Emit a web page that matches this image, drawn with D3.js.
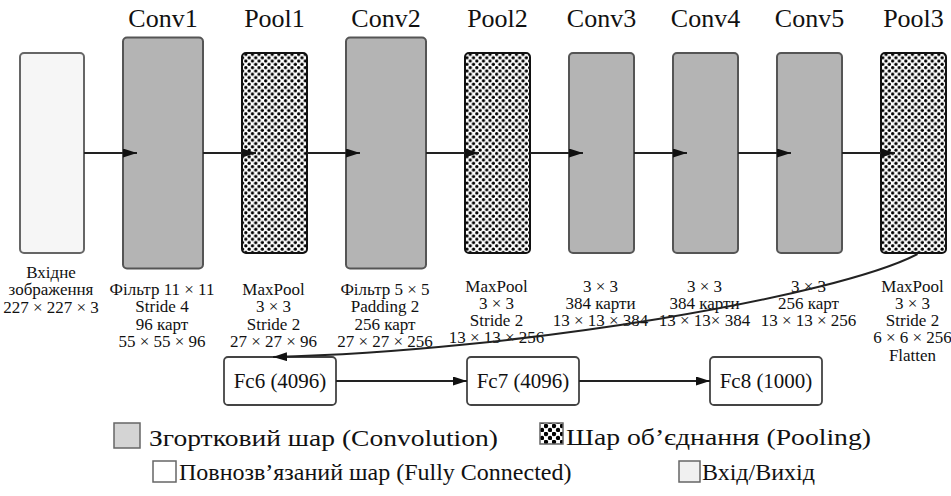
<!DOCTYPE html>
<html><head><meta charset="utf-8">
<script src="https://cdn.jsdelivr.net/npm/d3@7/dist/d3.min.js"></script>
<style>html,body{margin:0;padding:0;background:#fff;} svg text{font-family:"Liberation Serif","Times New Roman",Tinos,"DejaVu Serif",serif;fill:#111;}</style>
</head><body><div id="chart"></div>
<script>
// ---- data ----
const layerNames = ["Input","Conv1","Pool1","Conv2","Pool2","Conv3","Conv4","Conv5","Pool3"];
const layerTitles = ["","Conv1","Pool1","Conv2","Pool2","Conv3","Conv4","Conv5","Pool3"];
const layerTypes = ["input","conv","pool","conv","pool","conv","conv","conv","pool"];
const layerLabels = [
  ["Вхідне","зображення","227 × 227 × 3"],
  ["Фільтр 11 × 11","Stride 4","96 карт","55 × 55 × 96"],
  ["MaxPool","3 × 3","Stride 2","27 × 27 × 96"],
  ["Фільтр 5 × 5","Padding 2","256 карт","27 × 27 × 256"],
  ["MaxPool","3 × 3","Stride 2","13 × 13 × 256"],
  ["3 × 3","384 карти","13 × 13 × 384"],
  ["3 × 3","384 карти","13 × 13× 384"],
  ["3 × 3","256 карт","13 × 13 × 256"],
  ["MaxPool","3 × 3","Stride 2","6 × 6 × 256","Flatten"]
];
const fcNames = ["Fc6 (4096)","Fc7 (4096)","Fc8 (1000)"];
const legendLabels = ["Згортковий шар (Convolution)","Шар об’єднання (Pooling)","Повнозв’язаний шар (Fully Connected)","Вхід/Вихід"];
const legendTypes = ["conv","pool","fc","input"];

// ---- layout ----
const W = 951, H = 496;
const FONT = '"Liberation Serif","Times New Roman",Tinos,"DejaVu Serif",serif';
const svg = d3.select("#chart").append("svg").attr("width", W).attr("height", H)
  .attr("font-family", FONT);
const defs = svg.append("defs");
defs.append("marker").attr("id","arr").attr("viewBox","0 0 14 9")
  .attr("refX",14).attr("refY",4.5).attr("markerWidth",14).attr("markerHeight",9)
  .attr("markerUnits","userSpaceOnUse").attr("orient","auto")
  .append("path").attr("d","M0,0L14,4.5L0,9Z").attr("fill","#111");
function dotPattern(id, s, r){
  const p = defs.append("pattern").attr("id",id).attr("patternUnits","userSpaceOnUse")
    .attr("width",s).attr("height",s);
  p.append("rect").attr("width",s).attr("height",s).attr("fill","#fff");
  [[s/4,s/4],[3*s/4,3*s/4]].forEach(([cx,cy])=>p.append("circle").attr("cx",cx).attr("cy",cy).attr("r",r).attr("fill","#000"));
}
dotPattern("dots", 6.6, 1.65);
dotPattern("dotsBig", 8, 2.2);

const fills = {input:"#f6f6f6", conv:"#b4b4b4", pool:"url(#dots)", fc:"#fff"};
const strokes = {input:"#666", conv:"#555", pool:"#111", fc:"#444"};
const largeLayers = new Set(["Conv1","Conv2"]);
const midY = 153, gap = 39;
let cx = 20;
const boxes = layerNames.map((n,i)=>{
  const w = layerTypes[i]==="input" ? 64 : (largeLayers.has(n) ? 80 : 65);
  const h = largeLayers.has(n) ? 231 : 200;
  const b = {name:n, idx:i, type:layerTypes[i], title:layerTitles[i], labels:layerLabels[i], x:cx, w, h, y:midY - h/2};
  cx += w + gap;
  return b;
});

const g = svg.append("g");
g.selectAll("rect.layer").data(boxes).join("rect").attr("class","layer")
  .attr("x",d=>d.x).attr("y",d=>d.y).attr("width",d=>d.w).attr("height",d=>d.h)
  .attr("rx",4).attr("fill",d=>fills[d.type]).attr("stroke",d=>strokes[d.type]).attr("stroke-width",2);
g.selectAll("text.title").data(boxes.filter(d=>d.title)).join("text").attr("class","title")
  .attr("x",d=>d.x+d.w/2).attr("y",27).attr("text-anchor","middle").attr("font-size",26).text(d=>d.title);
const lh = 17.3;
boxes.forEach(b=>{
  const y0 = b.type==="input" ? 278 : (b.idx < 4 ? 295 : 291.5);
  b.labels.forEach((t,j)=>{
    g.append("text").attr("x",b.x+b.w/2-1).attr("y",y0+j*lh).attr("text-anchor","middle")
      .attr("font-size",17).text(t);
  });
});
d3.pairs(boxes).forEach(([a,b])=>{
  g.append("line").attr("x1",a.x+a.w).attr("x2",b.x+14).attr("y1",midY).attr("y2",midY)
    .attr("stroke","#222").attr("stroke-width",2).attr("marker-end","url(#arr)");
});

const fcX = d3.scalePoint().domain(fcNames).range([280,766]);
const fcW = 112, fcH = 48, fcY = 357;
const fcG = g.selectAll("g.fc").data(fcNames).join("g").attr("class","fc")
  .attr("transform",d=>`translate(${fcX(d)-fcW/2},${fcY})`);
fcG.append("rect").attr("width",fcW).attr("height",fcH).attr("rx",4)
  .attr("fill","#fff").attr("stroke","#444").attr("stroke-width",1.8);
fcG.append("text").attr("x",fcW/2).attr("y",fcH/2+7).attr("text-anchor","middle").attr("font-size",21).text(d=>d);
d3.pairs(fcNames).forEach(([a,b])=>{
  g.append("line").attr("x1",fcX(a)+fcW/2).attr("x2",fcX(b)-fcW/2).attr("y1",fcY+fcH/2).attr("y2",fcY+fcH/2)
    .attr("stroke","#222").attr("stroke-width",2).attr("marker-end","url(#arr)");
});

const p3 = boxes[boxes.length-1];
const s = [p3.x+p3.w/2+4, p3.y+p3.h+1];
const e = [fcX(fcNames[0])-fcW/2+49, fcY];
const path = d3.path();
path.moveTo(s[0],s[1]);
path.bezierCurveTo(s[0]-80, s[1]+42, e[0]+248, e[1]-6, e[0], e[1]);
g.append("path").attr("d",path.toString()).attr("fill","none").attr("stroke","#222")
  .attr("stroke-width",2).attr("marker-end","url(#arr)");

// legend: [squareX, squareY, w, h, textX, baseline, textWidth]
const legendPos = [[114,423,26,25,149,446,349],[540,423,23,21,566,445,305],[153,461,23,21,179,480,null],[679,461,21,21,702,480,null]];
const legFill = {conv:"#d4d4d4", pool:"url(#dotsBig)", fc:"#fff", input:"#f0f0f0"};
legendLabels.forEach((t,i)=>{
  const [x,y,w,h,tx,ty,tw] = legendPos[i];
  g.append("rect").attr("x",x).attr("y",y).attr("width",w).attr("height",h)
    .attr("fill",legFill[legendTypes[i]]).attr("stroke","#666").attr("stroke-width",1.5);
  const tt = g.append("text").attr("x",tx).attr("y",ty).attr("font-size",24).text(t);
  if (tw) tt.attr("textLength",tw).attr("lengthAdjust","spacingAndGlyphs");
});
</script></body></html>
